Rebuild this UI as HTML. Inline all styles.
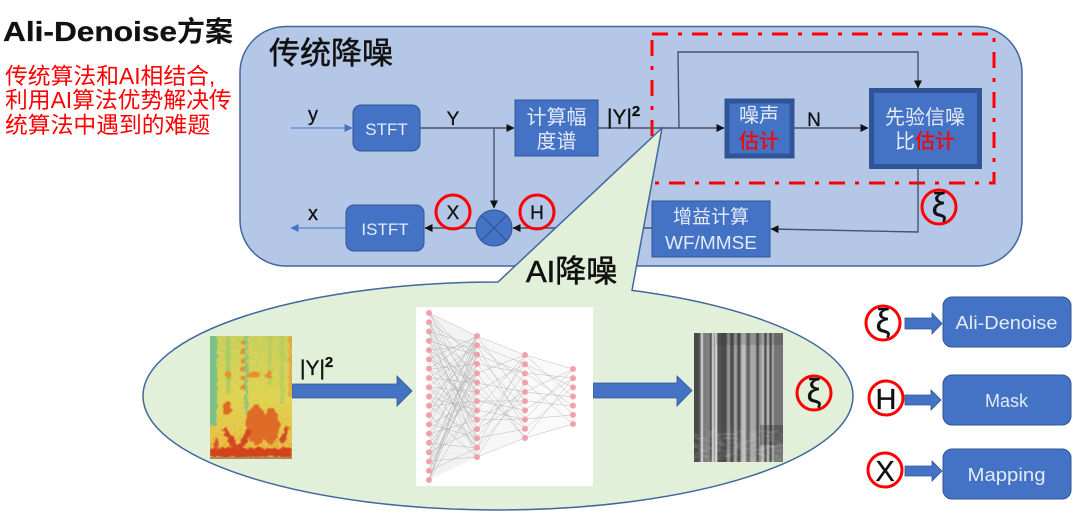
<!DOCTYPE html>
<html><head><meta charset="utf-8"><style>
html,body{margin:0;padding:0;background:#fff;width:1080px;height:517px;overflow:hidden}
svg{display:block}
text{font-family:"Liberation Sans","Noto Sans CJK SC",sans-serif}
.w{fill:#e4ebf7;text-anchor:middle}
.k{fill:#111;stroke:#111;stroke-width:.3}
.c{fill:none;stroke:#f00;stroke-width:3}
.b{fill:#4472c4;stroke:#2f5597;stroke-width:1}
.l{fill:none;stroke:#46546b;stroke-width:1.400}
</style></head><body>
<svg width="1080" height="517" viewBox="0 0 1080 517" xmlns="http://www.w3.org/2000/svg">
<defs>
<marker id="a" markerWidth="9" markerHeight="9" refX="7.500" refY="4" orient="auto" markerUnits="userSpaceOnUse"><path d="M0 0L8 4L0 8z" fill="#111"/></marker>
<marker id="ab" markerWidth="9" markerHeight="9" refX="7.500" refY="4" orient="auto" markerUnits="userSpaceOnUse"><path d="M0 0L8 4L0 8z" fill="#4472c4"/></marker>
<filter id="wob" x="-10%" y="-10%" width="120%" height="120%"><feTurbulence type="fractalNoise" baseFrequency=".22" numOctaves="2" seed="4" result="n"/><feDisplacementMap in="SourceGraphic" in2="n" scale="6" xChannelSelector="R" yChannelSelector="G"/><feGaussianBlur stdDeviation=".6"/></filter>
<filter id="spk" x="0" y="0" width="100%" height="100%"><feTurbulence type="fractalNoise" baseFrequency=".38" numOctaves="2" seed="9"/><feColorMatrix values="0 0 0 0 .93  0 0 0 0 .58  0 0 0 0 .14  3 0 0 0 -1.300"/><feGaussianBlur stdDeviation=".4"/></filter>
<filter id="bl2" x="-5%" y="-5%" width="110%" height="110%"><feGaussianBlur stdDeviation=".5"/></filter>
<filter id="gn" x="0" y="0" width="100%" height="100%"><feTurbulence type="fractalNoise" baseFrequency=".12 .45" numOctaves="2" seed="3"/><feColorMatrix values="0 0 0 0 .85  0 0 0 0 .85  0 0 0 0 .85  2.600 0 0 0 -1.200"/><feGaussianBlur stdDeviation=".4"/></filter>
<clipPath id="cs"><rect x="210" y="336" width="82" height="123"/></clipPath>
<clipPath id="cg"><rect x="694" y="333" width="89" height="129"/></clipPath>
<linearGradient id="sg" x1="0" y1="0" x2="0" y2="1"><stop offset="0" stop-color="#b9d25a"/><stop offset=".5" stop-color="#d6d84a"/><stop offset=".8" stop-color="#e2c23c"/><stop offset="1" stop-color="#e4a030"/></linearGradient>
</defs>

<!-- main panel -->
<rect x="240" y="26.500" width="782" height="239.500" rx="46" fill="#b4c7e7" stroke="#41679e" stroke-width="1.500"/>
<rect x="652" y="34" width="342" height="149" fill="none" stroke="#f00" stroke-width="3" stroke-dasharray="16 10 4 10"/>
<text x="269" y="64" font-size="31" fill="#111" stroke="#111" stroke-width=".5">传统降噪</text>

<!-- connectors -->
<path d="M291 128H352" fill="none" stroke="#5b86cf" stroke-width="1.300" marker-end="url(#ab)"/>
<path d="M420 128H514" class="l" marker-end="url(#a)"/>
<path d="M494 128V208" class="l" marker-end="url(#a)"/>
<path d="M598 128H724" class="l" marker-end="url(#a)"/>
<path d="M679 128L678 52H918V88" class="l" marker-end="url(#a)"/>
<path d="M794 128H868" class="l" marker-end="url(#a)"/>
<path d="M918 167V232L771 229" class="l" marker-end="url(#a)"/>
<path d="M652 228H513" class="l" marker-end="url(#a)"/>
<path d="M476 228H425" class="l" marker-end="url(#a)"/>
<path d="M346 228H291" fill="none" stroke="#5b86cf" stroke-width="1.300" marker-end="url(#ab)"/>

<!-- blocks -->
<rect x="353" y="105" width="67" height="46" rx="8" class="b"/>
<text x="386.500" y="135" font-size="17" class="w">STFT</text>
<rect x="515" y="100" width="83" height="56" class="b" stroke="#5b7fbd"/>
<text x="556.500" y="124" font-size="20" class="w">计算幅</text>
<text x="556.500" y="148" font-size="20" class="w">度谱</text>
<rect x="727" y="101" width="65" height="55" fill="#4472c4" stroke="#2f5597" stroke-width="5"/>
<text x="759" y="122" font-size="20" class="w">噪声</text>
<text x="759" y="148" font-size="20" fill="#f00" text-anchor="middle" stroke="#f00" stroke-width=".3">估计</text>
<rect x="871.500" y="90.500" width="108" height="76" fill="#4472c4" stroke="#2f5597" stroke-width="5"/>
<text x="925" y="124" font-size="20" class="w">先验信噪</text>
<text x="925" y="148" font-size="20" text-anchor="middle"><tspan fill="#e4ebf7">比</tspan><tspan fill="#f00" stroke="#f00" stroke-width=".3">估计</tspan></text>
<rect x="652" y="201" width="118" height="56" class="b" stroke="#5b7fbd"/>
<text x="711" y="223" font-size="19" class="w">增益计算</text>
<text x="711" y="249" font-size="18" class="w" textLength="92" lengthAdjust="spacingAndGlyphs">WF/MMSE</text>
<rect x="346" y="205" width="78" height="46" rx="8" class="b"/>
<text x="385" y="235" font-size="17" class="w">ISTFT</text>
<circle cx="494" cy="228" r="18" class="b"/>
<path d="M481.500 215.500L506.500 240.500M506.500 215.500L481.500 240.500" stroke="#2f5597" stroke-width="1.200"/>

<!-- labels -->
<text x="313" y="121" font-size="20" class="k" text-anchor="middle">y</text>
<text x="453" y="125" font-size="19" class="k" text-anchor="middle">Y</text>
<text x="313" y="220" font-size="20" class="k" text-anchor="middle">x</text>
<text x="607" y="124" font-size="21" class="k" stroke-width=".5">|Y|<tspan font-size="15" dy="-8" font-weight="bold">2</tspan></text>
<text x="814" y="126" font-size="19" class="k" text-anchor="middle">N</text>
<circle cx="453" cy="212" r="17" class="c"/><text x="453" y="219" font-size="19" class="k" text-anchor="middle">X</text>
<circle cx="537" cy="212" r="17" class="c"/><text x="537" y="219" font-size="19" class="k" text-anchor="middle">H</text>
<circle cx="939" cy="207" r="17" class="c"/><text x="939" y="216" font-size="33" class="k" text-anchor="middle">ξ</text>

<!-- callout ellipse -->
<path d="M662 128L632 290.400A355 114 0 0 1 853 396A355 114 0 0 1 143 396A355 114 0 0 1 498 282Z" fill="#e2efd9" stroke="#41679e" stroke-width="1.500"/>
<text x="526" y="282" font-size="31" fill="#111" stroke="#111" stroke-width=".6">AI降噪</text>

<!-- spectrogram -->
<g clip-path="url(#cs)">
<rect x="210" y="336" width="82" height="123" fill="url(#sg)"/>
<rect x="210" y="336" width="82" height="123" filter="url(#spk)"/>
<g filter="url(#wob)">
<rect x="208" y="334" width="9" height="92" fill="#7cc08a"/>
<rect x="226" y="334" width="4" height="60" fill="#a2cb6c" opacity=".8"/>
<rect x="245" y="334" width="3" height="80" fill="#8cc47e"/>
<rect x="268" y="334" width="4" height="50" fill="#b0cc60" opacity=".7"/>
<rect x="280" y="334" width="4" height="70" fill="#b0cc60" opacity=".7"/>
<path d="M243 340V392" stroke="#e38a30" stroke-width="4" stroke-dasharray="5 4"/>
<rect x="289" y="336" width="3" height="60" fill="#e6a83c"/>
<ellipse cx="254" cy="375" rx="7" ry="3.500" fill="#e5902e"/>
<ellipse cx="269" cy="375" rx="3.500" ry="3.500" fill="#e5902e"/>
<ellipse cx="228" cy="375" rx="3" ry="3" fill="#e5902e"/>
<ellipse cx="227" cy="408" rx="4" ry="7" fill="#dc6c28"/>
<ellipse cx="256" cy="425" rx="10" ry="20" fill="#de6c28"/>
<ellipse cx="271" cy="426" rx="8" ry="19" fill="#de6c28"/>
<path d="M224 428L236 449M249 430L240 449" stroke="#d24a22" stroke-width="5.500" fill="none"/>
<path d="M288 426L281 444" stroke="#d24a22" stroke-width="5" fill="none"/>
<rect x="210" y="448" width="82" height="9" fill="#d4421c"/>
<rect x="214" y="438" width="4" height="12" fill="#d9582a"/>
</g>
<rect x="210" y="457" width="82" height="2" fill="#a88a60"/>
</g>

<!-- big arrows -->
<path d="M292.500 384H397V376L412 391L397 406V398H292.500Z" fill="#4472c4" stroke="#2f5597" stroke-width=".8"/>
<text x="300" y="375" font-size="21" class="k" stroke-width=".5">|Y|<tspan font-size="15" dy="-8" font-weight="bold">2</tspan></text>

<!-- NN -->
<rect x="416" y="307" width="177" height="179" fill="#fff"/>
<path d="M429 313L477 336L477 457L429 480Z" fill="#000" opacity=".05"/>
<path d="M477 336L525 355L525 438L477 457Z" fill="#000" opacity=".03"/>
<path d="M525 355L573 369L573 424L525 438Z" fill="#000" opacity=".02"/>
<g fill="none" stroke="#8a8a8a" stroke-width=".4" opacity=".7">
<path d="M429 313L477 401M429 313L477 336M429 313L477 383M429 322L477 420M429 322L477 355M429 332L477 448M429 332L477 373M429 341L477 392M429 341L477 429M429 350L477 345M429 350L477 457M429 359L477 410M429 359L477 336M429 369L477 438M429 369L477 364M429 378L477 383M429 378L477 420M429 387L477 345M429 387L477 448M429 397L477 355M429 397L477 410M429 406L477 336M429 406L477 438M429 415L477 373M429 415L477 457M429 424L477 345M429 424L477 401M429 434L477 364M429 434L477 420M429 443L477 336M429 443L477 392M429 452L477 355M429 452L477 429M429 461L477 345M429 461L477 410M429 471L477 373M429 471L477 448M429 480L477 336M429 480L477 364M429 480L477 401M429 480L477 345M429 471L477 355M429 461L477 383M429 313L477 364M429 322L477 392M429 332L477 345M429 341L477 355M429 350L477 420M429 359L477 383M429 369L477 401M429 378L477 345M429 387L477 420M429 397L477 448M429 406L477 373M429 415L477 336M429 322L477 438M429 332L477 410M429 350L477 383M429 369L477 336M429 387L477 392M429 406L477 401M429 424L477 438M429 443L477 448M429 461L477 457M429 452L477 373"/>
<path d="M477 336L525 401M477 345L525 429M477 355L525 373M477 364L525 419M477 373L525 355M477 383L525 438M477 392L525 364M477 401L525 410M477 410L525 355M477 420L525 392M477 429L525 364M477 438L525 373M477 448L525 355M477 457L525 382M477 336L525 355M477 345L525 364M477 364L525 373M477 383L525 392M477 401L525 401M477 420L525 419M477 438L525 429M477 457L525 438M477 355L525 410M477 392L525 429M477 429L525 401M477 373L525 438M477 410L525 419M477 448L525 392M477 345L525 382"/>
<path d="M525 355L573 397M525 364L573 415M525 373L573 378M525 382L573 424M525 392L573 369M525 401L573 406M525 410L573 378M525 419L573 369M525 429L573 387M525 438L573 378M525 355L573 369M525 438L573 424M525 392L573 397M525 373L573 406M525 419L573 415M525 364L573 387"/>
</g>
<g fill="none" stroke="#f2a0ac" stroke-width="6" stroke-linecap="round">
<path d="M429 313V481" stroke-dasharray="0 9.280"/>
<path d="M477 336V458" stroke-dasharray="0 9.310"/>
<path d="M525 355V439" stroke-dasharray="0 9.220"/>
<path d="M573 369V425" stroke-dasharray="0 9.170"/>
</g>

<path d="M593.500 383H677V376L692 390.500L677 406V398H593.500Z" fill="#4472c4" stroke="#2f5597" stroke-width=".8"/>

<!-- gray image -->
<g clip-path="url(#cg)">
<rect x="694" y="333" width="89" height="129" fill="#666"/>
<g filter="url(#bl2)">
<rect x="692" y="331" width="7" height="133" fill="#484848"/>
<rect x="701" y="331" width="2" height="133" fill="#e0e0e0"/>
<rect x="704" y="331" width="6" height="133" fill="#808080"/>
<rect x="710" y="331" width="2" height="133" fill="#444"/>
<rect x="712" y="331" width="2" height="133" fill="#d8d8d8"/>
<rect x="715" y="331" width="2" height="133" fill="#e4e4e4"/>
<rect x="717" y="331" width="4" height="133" fill="#555"/>
<rect x="721" y="331" width="6" height="133" fill="#4c4c4c"/>
<rect x="727" y="331" width="3" height="133" fill="#959595"/>
<rect x="730" y="331" width="4" height="133" fill="#505050"/>
<rect x="734" y="331" width="3" height="133" fill="#a2a2a2"/>
<rect x="737" y="331" width="3" height="133" fill="#505050"/>
<rect x="741" y="331" width="5" height="133" fill="#bcbcbc"/>
<rect x="746" y="331" width="3" height="133" fill="#666"/>
<rect x="750" y="331" width="6" height="133" fill="#a8a8a8"/>
<rect x="757" y="331" width="2" height="133" fill="#4c4c4c"/>
<rect x="759" y="331" width="3" height="133" fill="#9a9a9a"/>
<rect x="762" y="331" width="2" height="133" fill="#c0c0c0"/>
<rect x="764" y="331" width="2" height="133" fill="#484848"/>
<rect x="767" y="331" width="2" height="133" fill="#c4c4c4"/>
<rect x="770" y="331" width="2" height="133" fill="#4c4c4c"/>
<rect x="772" y="331" width="2" height="133" fill="#b0b0b0"/>
<rect x="775" y="331" width="9" height="133" fill="#757575"/>
</g>
<rect x="716" y="333" width="67" height="12" fill="#333" opacity=".18"/>
<rect x="760" y="425" width="23" height="20" fill="#222" opacity=".3"/>
<rect x="694" y="430" width="89" height="32" filter="url(#gn)" opacity=".35"/>
</g>
<circle cx="814" cy="393" r="17" class="c"/><text x="814" y="402" font-size="33" class="k" text-anchor="middle">ξ</text>

<!-- legend -->
<circle cx="883" cy="323" r="17" class="c"/><text x="883" y="332" font-size="33" class="k" text-anchor="middle">ξ</text>
<circle cx="886" cy="398" r="17" class="c"/><text x="886" y="409" font-size="29" class="k" text-anchor="middle">H</text>
<circle cx="885" cy="470" r="17" class="c"/><text x="885" y="481" font-size="29" class="k" text-anchor="middle">X</text>
<path d="M905 318H932V313L942 323.500L932 334V329H905Z" fill="#4472c4" stroke="#2f5597" stroke-width=".8"/>
<path d="M905 395H931V390L941 400L931 410V405H905Z" fill="#4472c4" stroke="#2f5597" stroke-width=".8"/>
<path d="M905 466H932V461L942 471L932 481V476H905Z" fill="#4472c4" stroke="#2f5597" stroke-width=".8"/>
<rect x="943" y="297" width="128" height="50" rx="9" class="b"/>
<text x="1006.500" y="329" font-size="18" class="w" textLength="102" lengthAdjust="spacingAndGlyphs">Ali-Denoise</text>
<rect x="943" y="375" width="128" height="50" rx="9" class="b"/>
<text x="1006.500" y="407" font-size="18" class="w">Mask</text>
<rect x="943" y="449" width="128" height="50" rx="9" class="b"/>
<text x="1006.500" y="481" font-size="18" class="w" textLength="78" lengthAdjust="spacingAndGlyphs">Mapping</text>

<!-- title -->
<text x="3" y="41" font-size="28" font-weight="bold" fill="#111" stroke="#111" stroke-width=".3" textLength="174" lengthAdjust="spacingAndGlyphs">Ali-Denoise</text>
<text x="177" y="41" font-size="28" font-weight="bold" fill="#111">方案</text>
<text x="5" y="84" font-size="22.800" fill="#f00">传统算法和AI相结合,</text>
<text x="5" y="108" font-size="22.800" fill="#f00">利用AI算法优势解决传</text>
<text x="5" y="133" font-size="22.800" fill="#f00">统算法中遇到的难题</text>
</svg>
</body></html>
